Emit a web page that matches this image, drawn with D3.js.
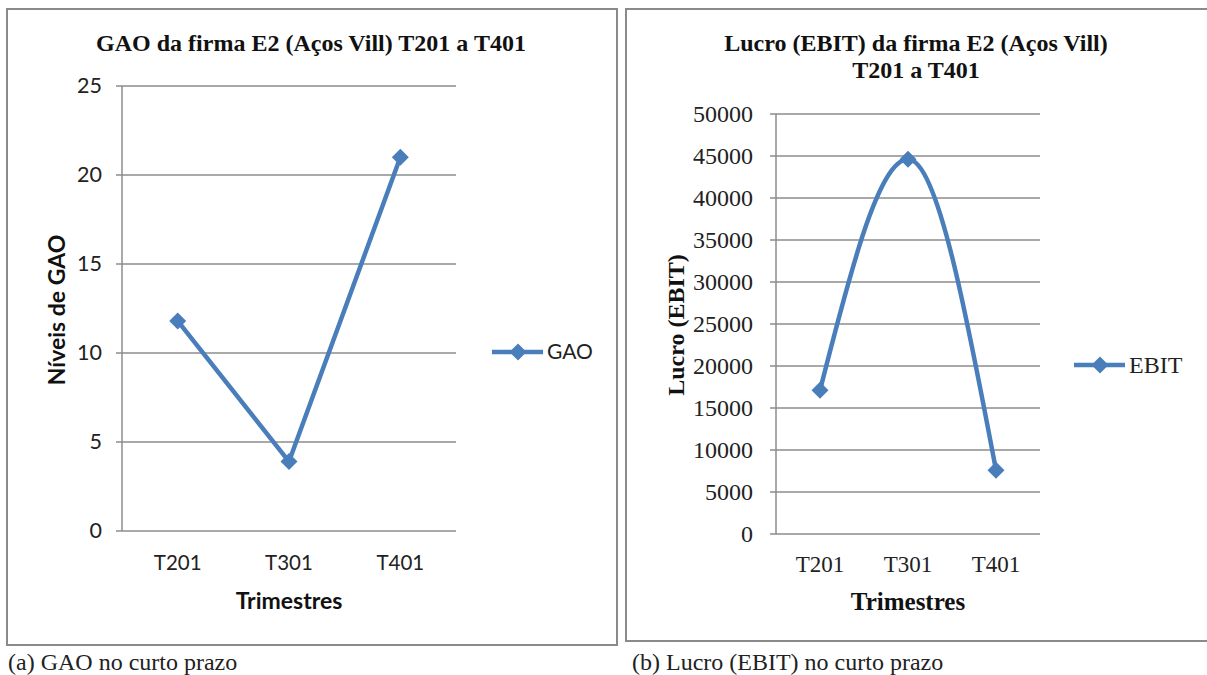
<!DOCTYPE html>
<html><head><meta charset="utf-8">
<script src="https://cdn.jsdelivr.net/npm/d3@7"></script>
<style>
body{margin:0;background:#fff;}
svg{display:block;}
</style></head>
<body>
<svg id="c" width="1207" height="675"></svg>
<script>
const categories = ["T201", "T301", "T401"];
const gaoValues = [11.8, 3.9, 21.0];
const ebitValues = [17100, 44600, 7600];
const gaoTicks = [0, 5, 10, 15, 20, 25];
const ebitTicks = [0, 5000, 10000, 15000, 20000, 25000, 30000, 35000, 40000, 45000, 50000];

const svg = d3.select("#c");
const blue = "#4a7ebb";
const gridCol = "#8c8c8c";
const sans = "Lato, 'Open Sans', sans-serif";
const serif = "'Liberation Serif', 'Times New Roman', serif";

function diamond(g, x, y, r) {
  g.append("path")
    .attr("d", `M${x},${y - r}L${x + r},${y}L${x},${y + r}L${x - r},${y}Z`)
    .attr("fill", blue);
}

function panel(cfg) {
  const g = svg.append("g");
  g.append("rect").attr("x", cfg.box[0]).attr("y", cfg.box[1])
    .attr("width", cfg.box[2]).attr("height", cfg.box[3])
    .attr("fill", "none").attr("stroke", "#8a8a8a").attr("stroke-width", 2);

  const x = d3.scaleBand().domain(categories).range([cfg.x0, cfg.x1]);
  const y = d3.scaleLinear().domain([0, d3.max(cfg.ticks)]).range([cfg.y0, cfg.y1]);

  g.append("g").selectAll("line").data(cfg.ticks).join("line")
    .attr("x1", cfg.x0 - 6).attr("x2", cfg.x1)
    .attr("y1", d => y(d)).attr("y2", d => y(d))
    .attr("stroke", gridCol).attr("stroke-width", 1.5);
  g.append("line").attr("x1", cfg.x0).attr("x2", cfg.x0)
    .attr("y1", cfg.y1).attr("y2", cfg.y0)
    .attr("stroke", gridCol).attr("stroke-width", 1.5);

  const yAxis = d3.axisLeft(y).tickValues(cfg.ticks).tickSize(0).tickPadding(0).tickFormat(d3.format("d"));
  const ya = g.append("g").attr("transform", `translate(${cfg.tickX},0)`).call(yAxis);
  ya.select(".domain").remove();
  ya.selectAll("text").attr("font-family", cfg.font).attr("font-size", cfg.tickSize)
    .attr("fill", "#222");

  const xAxis = d3.axisBottom(x).tickSize(0).tickPadding(0);
  const xa = g.append("g").attr("transform", `translate(0,${cfg.catY})`).call(xAxis);
  xa.select(".domain").remove();
  xa.selectAll("text").attr("font-family", cfg.font).attr("font-size", cfg.catSize)
    .attr("fill", "#222").attr("dy", "0.35em");

  const line = d3.line()
    .x((d, i) => x(categories[i]) + x.bandwidth() / 2)
    .y(d => y(d))
    .curve(cfg.curve);
  g.append("path").datum(cfg.values).attr("d", line)
    .attr("fill", "none").attr("stroke", blue).attr("stroke-width", 4.5)
    .attr("stroke-linejoin", "round");
  cfg.values.forEach((v, i) => diamond(g, x(categories[i]) + x.bandwidth() / 2, y(v), 8.5));

  const t = g.append("text").attr("x", cfg.titleX).attr("y", cfg.titleY)
    .attr("text-anchor", "middle").attr("font-family", serif)
    .attr("font-weight", "bold").attr("font-size", 24).attr("fill", "#111");
  cfg.title.forEach((s, i) => t.append("tspan").attr("x", cfg.titleX).attr("dy", i ? 27 : 0).text(s));

  g.append("text").attr("transform", `translate(${cfg.yTitleX},${cfg.yTitleY}) rotate(-90)`)
    .attr("text-anchor", "middle").attr("font-family", cfg.font).attr("font-weight", "bold")
    .attr("font-size", cfg.yTitleSize).attr("fill", "#111").attr("dy", "0.35em").text(cfg.yTitle);
  g.append("text").attr("x", (cfg.x0 + cfg.x1) / 2).attr("y", cfg.xTitleY)
    .attr("text-anchor", "middle").attr("font-family", cfg.font).attr("font-weight", "bold")
    .attr("font-size", cfg.xTitleSize).attr("fill", "#111").attr("dy", "0.35em").text("Trimestres");

  g.append("line").attr("x1", cfg.legX).attr("x2", cfg.legX + 51)
    .attr("y1", cfg.legY).attr("y2", cfg.legY).attr("stroke", blue).attr("stroke-width", 4.5);
  diamond(g, cfg.legX + 26, cfg.legY, 8.5);
  g.append("text").attr("x", cfg.legX + 55).attr("y", cfg.legY).attr("dy", "0.35em")
    .attr("font-family", cfg.font).attr("font-size", cfg.legSize).attr("fill", "#222").text(cfg.legText);

  svg.append("text").attr("x", cfg.capX).attr("y", 662).attr("dy", "0.35em")
    .attr("font-family", serif).attr("font-size", 24).attr("fill", "#222").text(cfg.caption);
}

panel({
  box: [7, 9, 610, 636], x0: 122, x1: 456, y0: 531, y1: 86,
  ticks: gaoTicks, values: gaoValues, curve: d3.curveLinear,
  font: sans, tickSize: 21.5, catSize: 20.5, tickX: 102, catY: 563,
  title: ["GAO da firma E2 (Aços Vill) T201 a T401"], titleX: 311, titleY: 51,
  yTitle: "Níveis de GAO", yTitleX: 57, yTitleY: 310, yTitleSize: 23,
  xTitleY: 601, xTitleSize: 23,
  legX: 492, legY: 352, legText: "GAO", legSize: 21,
  capX: 8, caption: "(a) GAO no curto prazo"
});

panel({
  box: [626, 9, 590, 632], x0: 776, x1: 1040, y0: 534, y1: 114,
  ticks: ebitTicks, values: ebitValues, curve: d3.curveMonotoneX,
  font: serif, tickSize: 24, catSize: 23, tickX: 753, catY: 564,
  title: ["Lucro (EBIT) da firma E2 (Aços Vill)", "T201 a T401"], titleX: 916, titleY: 51,
  yTitle: "Lucro (EBIT)", yTitleX: 676, yTitleY: 325, yTitleSize: 24,
  xTitleY: 601, xTitleSize: 25,
  legX: 1074, legY: 365, legText: "EBIT", legSize: 24,
  capX: 632, caption: "(b) Lucro (EBIT) no curto prazo"
});
</script>
</body></html>
